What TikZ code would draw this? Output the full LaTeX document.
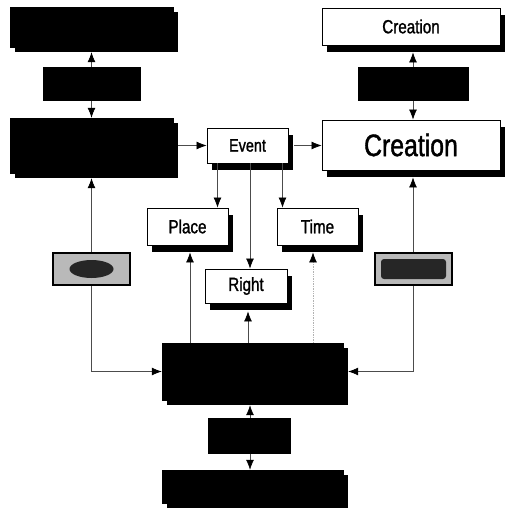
\documentclass[tikz,border=0pt]{standalone}
\usepackage{fontspec}
\newfontfamily\lf[FakeStretch=0.8,FakeBold=1.3]{Liberation Sans}
\usetikzlibrary{arrows.meta,shadows,calc}
\begin{document}
\begin{tikzpicture}[x=1pt,y=-1pt,
  box/.style={draw=black, line width=0.8pt, fill=white, inner sep=0pt,
    font=\lf\fontsize{19}{19}\selectfont,
    drop shadow={shadow xshift=5pt, shadow yshift=-7pt, fill=black, opacity=1}},
  blk/.style={fill=black, draw=black, inner sep=0pt,
    drop shadow={shadow xshift=5pt, shadow yshift=-5pt, fill=black, opacity=1}},
  mid/.style={fill=black, draw=black, inner sep=0pt},
  gbox/.style={fill=gray!55, draw=black, line width=1.5pt, inner sep=0pt},
  conn/.style={draw=black!70, line width=0.7pt, -{Latex[length=10pt,width=8pt,color=black]}},
  both/.style={draw=black!70, line width=0.7pt, {Latex[length=10pt,width=8pt,color=black]}-{Latex[length=10pt,width=8pt,color=black]}}
]
\useasboundingbox[fill=white] (0,0) rectangle (505,513);

% main nodes
\node[blk, minimum width=163pt, minimum height=40pt] (tl) at (91.5,27) {};
\node[blk, minimum width=163pt, minimum height=55pt] (bl) at (91.5,145.5) {};
\node[box, minimum width=81pt, minimum height=35pt, font=\lf\fontsize{18}{18}\selectfont] (ev) at (247.5,145.5) {Event};
\node[box, minimum width=178pt, minimum height=37pt] (ct) at (411,26.5) {Creation};
\node[box, minimum width=178pt, minimum height=50pt, font=\lf\fontsize{31}{31}\selectfont] (cb) at (411,145) {Creation};
\node[box, minimum width=81pt, minimum height=37pt] (pl) at (187.5,226.5) {Place};
\node[box, minimum width=81pt, minimum height=37pt] (ti) at (317.5,226.5) {Time};
\node[box, minimum width=82pt, minimum height=34pt] (ri) at (246,286) {Right};
\node[blk, minimum width=181pt, minimum height=57pt] (b) at (252.5,371.5) {};
\node[blk, minimum width=181pt, minimum height=33pt] (bb) at (252.5,486.5) {};

% helper coordinates
\coordinate (tlS) at ([yshift=-5pt]tl.south);
\coordinate (blS) at ([yshift=-5pt]bl.south);
\coordinate (blE) at ([xshift=5pt]bl.east);
\coordinate (evE) at ([xshift=6pt]ev.east);
\coordinate (ctS) at ([xshift=2pt,yshift=-7pt]ct.south);
\coordinate (cbS) at ([xshift=2pt,yshift=-7pt]cb.south);
\coordinate (plS) at ([yshift=-7pt]pl.south);
\coordinate (tiS) at ([yshift=-7pt]ti.south);
\coordinate (riS) at ([yshift=-8pt]ri.south);
\coordinate (bE) at ([xshift=5pt]b.east);
\coordinate (bS) at ([xshift=-2.5pt,yshift=-5pt]b.south);
\coordinate (b1) at ([xshift=-62.5pt]b.north);
\coordinate (b2) at ([xshift=-4.5pt]b.north);
\coordinate (b3) at ([xshift=60.5pt]b.north);
\coordinate (e1) at ([xshift=-30pt]ev.south);
\coordinate (e2) at ([xshift=2.5pt]ev.south);
\coordinate (e3) at ([xshift=35pt]ev.south);

% connectors
\draw[both] (tlS) -- (tlS |- bl.north);
\draw[conn] (blE) -- (ev.west);
\draw[conn] (evE) -- (evE -| cb.west);
\draw[conn] (e1) -- (e1 |- pl.north);
\draw[conn] (e2) -- (e2 |- ri.north);
\draw[conn] (e3) -- (e3 |- ti.north);
\draw[conn] (b1) -- (b1 |- plS);
\draw[conn] (b2) -- (b2 |- riS);
\draw[conn, draw=gray!60, densely dotted] (b3) -- (b3 |- tiS);
\draw[both] (blS) -- (blS |- b.west) -- (b.west);
\draw[both] (cbS) -- (cbS |- bE) -- (bE);
\draw[both] (ctS) -- (ctS |- cb.north);
\draw[both] (bS) -- (bS |- bb.north);

% label boxes on the connectors
\node[mid, minimum width=97pt, minimum height=33pt] (tlm) at (91.5,83.5) {};
\node[mid, minimum width=110pt, minimum height=33pt] (ctm) at (413,83.5) {};
\node[mid, minimum width=82pt, minimum height=35pt] (bm) at (249,435.5) {};
\node[gbox, minimum width=77pt, minimum height=32pt,
  path picture={\fill[black!85] (path picture bounding box.center) ellipse (22pt and 9pt);}] (gl) at (91.5,269) {};
\node[gbox, minimum width=77pt, minimum height=32pt,
  path picture={\fill[black!85, rounded corners=3pt] ([xshift=6pt,yshift=-6pt]path picture bounding box.north west) rectangle ([xshift=-6pt,yshift=6pt]path picture bounding box.south east);}] (gr) at (413.5,269) {};
\end{tikzpicture}
\end{document}
